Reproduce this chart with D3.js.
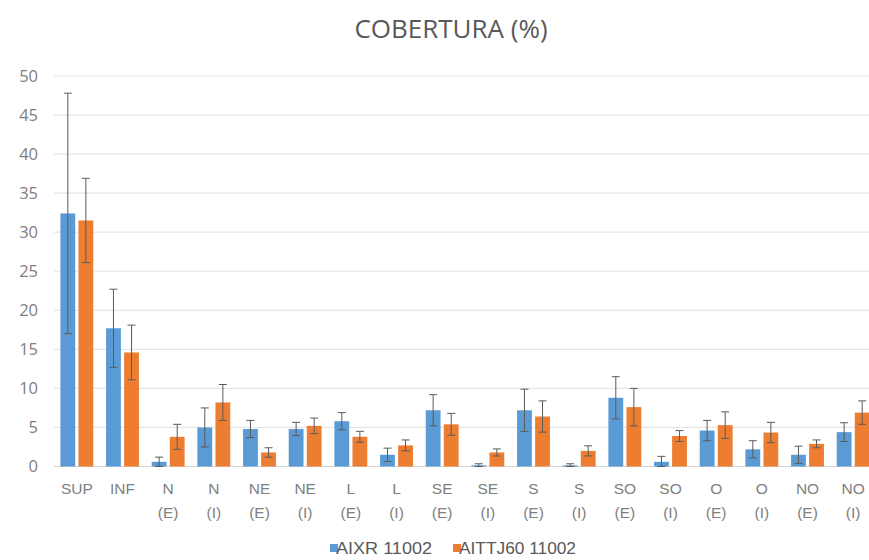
<!DOCTYPE html>
<html><head><meta charset="utf-8">
<script src="https://cdn.jsdelivr.net/npm/d3@7"></script>
<style>body{margin:0;background:#fff;}svg{display:block;}</style>
</head><body>
<svg id="chart" width="869" height="560"></svg>
<script>
const categories = ["SUP","INF","N (E)","N (I)","NE (E)","NE (I)","L (E)","L (I)","SE (E)","SE (I)","S (E)","S (I)","SO (E)","SO (I)","O (E)","O (I)","NO (E)","NO (I)"];
const seriesNames = ["AIXR 11002","AITTJ60 11002"];
const aixrValues   = [32.4,17.7,0.6,5.0,4.8,4.8,5.8,1.5,7.2,0.15,7.2,0.15,8.8,0.6,4.6,2.2,1.5,4.4];
const aixrErrors   = [15.4,5.0,0.6,2.5,1.1,0.85,1.1,0.85,2.0,0.2,2.7,0.2,2.7,0.7,1.3,1.1,1.1,1.2];
const aittjValues  = [31.5,14.6,3.8,8.2,1.8,5.2,3.8,2.7,5.4,1.8,6.4,2.0,7.6,3.9,5.3,4.35,2.9,6.9];
const aittjErrors  = [5.4,3.5,1.6,2.3,0.6,1.0,0.7,0.7,1.4,0.45,2.0,0.65,2.4,0.7,1.7,1.3,0.5,1.5];
const yTicks = [0,5,10,15,20,25,30,35,40,45,50];
const colors = ["#5B9BD5","#ED7D31"];

const svg = d3.select("#chart");
const mLeft = 54, mRight = 876, mTop = 76, mBottom = 466.5;

const x0 = d3.scaleBand().domain(categories).range([mLeft, mRight]).paddingInner(0.28).paddingOuter(0.14);
const x1 = d3.scaleBand().domain(seriesNames).range([0, x0.bandwidth()]).paddingInner(0.18);
const y = d3.scaleLinear().domain([0,50]).range([mBottom, mTop]);

// gridlines
svg.append("g").selectAll("line").data(yTicks).join("line")
  .attr("x1", mLeft).attr("x2", 869)
  .attr("y1", d => y(d)).attr("y2", d => y(d))
  .attr("stroke", d => d === 0 ? "#d4d4d4" : "#e6e6e6").attr("stroke-width", 1.2);

// y axis labels
const yAxis = d3.axisLeft(y).tickValues(yTicks).tickSize(0).tickPadding(0);
const yg = svg.append("g").attr("transform", `translate(${mLeft-16},0)`).call(yAxis);
yg.select(".domain").remove();
yg.selectAll("text").attr("fill","#808080").attr("font-size",16.5).attr("font-family","'Open Sans', 'Liberation Sans', sans-serif");

// data table
const rows = categories.map((c,i) => ({
  cat: c,
  vals: [
    {s: seriesNames[0], v: aixrValues[i], e: aixrErrors[i], c: colors[0]},
    {s: seriesNames[1], v: aittjValues[i], e: aittjErrors[i], c: colors[1]}
  ]
}));

const groups = svg.append("g").selectAll("g").data(rows).join("g")
  .attr("transform", d => `translate(${x0(d.cat)},0)`);

groups.selectAll("rect").data(d => d.vals).join("rect")
  .attr("x", d => x1(d.s)).attr("width", x1.bandwidth())
  .attr("y", d => y(d.v)).attr("height", d => y(0) - y(d.v))
  .attr("fill", d => d.c);

// error bars
const eb = groups.selectAll("g.eb").data(d => d.vals).join("g").attr("class","eb")
  .attr("transform", d => `translate(${x1(d.s) + x1.bandwidth()/2},0)`);
eb.append("line").attr("x1",0).attr("x2",0)
  .attr("y1", d => y(d.v + d.e)).attr("y2", d => y(Math.max(0, d.v - d.e)))
  .attr("stroke","#5a5a5a").attr("stroke-width",1);
eb.append("line").attr("x1",-4).attr("x2",4)
  .attr("y1", d => y(d.v + d.e)).attr("y2", d => y(d.v + d.e))
  .attr("stroke","#5a5a5a").attr("stroke-width",1);
eb.append("line").attr("x1",-4).attr("x2",4)
  .attr("y1", d => y(Math.max(0, d.v - d.e))).attr("y2", d => y(Math.max(0, d.v - d.e)))
  .attr("stroke","#5a5a5a").attr("stroke-width",1);

// x labels
const xl = svg.append("g").selectAll("text").data(categories).join("text")
  .attr("x", d => x0(d) + x0.bandwidth()/2)
  .attr("y", 494)
  .attr("text-anchor","middle")
  .attr("fill","#808080").attr("font-size",15.5)
  .attr("font-family","'Liberation Sans', Arial, sans-serif");
xl.each(function(d){
  const parts = d.split(" ");
  const t = d3.select(this);
  parts.forEach((p,i) => t.append("tspan").attr("x", x0(d) + x0.bandwidth()/2).attr("dy", i===0?0:24).text(p));
});

// title
svg.append("text").attr("x", 451).attr("y", 38).attr("text-anchor","middle")
  .attr("fill","#595959").attr("font-size",26)
  .attr("font-family","'Open Sans', 'Liberation Sans', sans-serif")
  .text("COBERTURA (%)");

// legend
const legend = svg.append("g");
const legX = [330, 453];
seriesNames.forEach((s,i) => {
  legend.append("rect").attr("x", legX[i]).attr("y", 544).attr("width", 8).attr("height", 8).attr("fill", colors[i]);
  legend.append("text").attr("x", legX[i] + 6).attr("y", 554)
    .attr("fill","#595959").attr("font-size",17)
    .attr("textLength", i===0 ? 96 : 117).attr("lengthAdjust","spacingAndGlyphs")
    .attr("font-family","'Liberation Sans', Arial, sans-serif").text(s);
});
</script>
</body></html>
